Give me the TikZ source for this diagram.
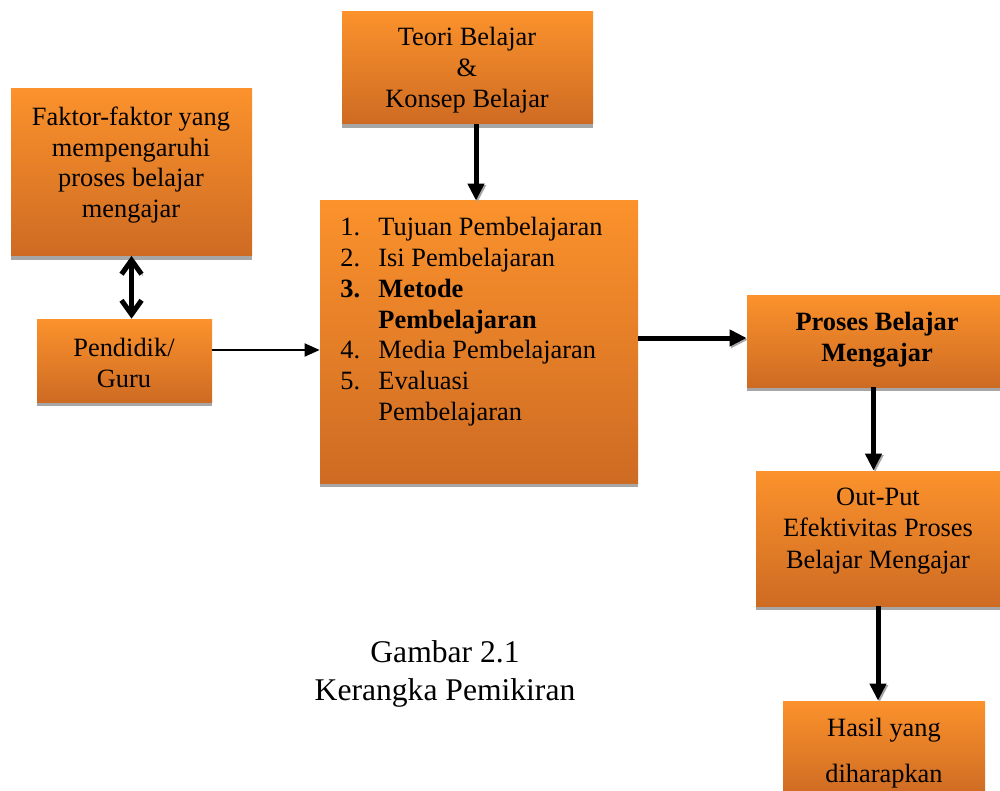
\documentclass[tikz,border=0pt]{standalone}
\usepackage{fontspec}
\setmainfont{Liberation Serif}
\usepackage{tikz}
\usetikzlibrary{arrows.meta,shadows}
\definecolor{orTop}{RGB}{251,146,44}
\definecolor{orBot}{RGB}{206,107,35}
\definecolor{shGray}{RGB}{166,166,166}
\newcommand{\boxfont}{\fontsize{13.2pt}{15.4pt}\selectfont}
\newcommand{\itm}[1]{\makebox[19pt][l]{#1}}
\tikzset{
  box/.style={rectangle, inner sep=0pt, top color=orTop, bottom color=orBot,
    drop shadow={shadow xshift=0pt, shadow yshift=-2pt, fill=shGray, opacity=1}},
  btext/.style={align=center, inner sep=0pt, font=\boxfont},
  flow/.style={line width=2.5pt,
    preaction={draw=shGray, transform canvas={xshift=0.8pt, yshift=-0.8pt}}}
}

\begin{document}
\begin{tikzpicture}[x=0.5pt, y=-0.5pt, >={Triangle[length=8.5pt, width=8pt]}]
    \useasboundingbox (0,0) rectangle (1000,791);
    % boxes
    \node[box, minimum width=120.5pt, minimum height=83.5pt] (fk) at (131.5,172) {};
    \node[box, minimum width=87.5pt, minimum height=41.5pt] (pd) at (124.5,360.5) {};
    \node[box, minimum width=125.5pt, minimum height=56pt] (th) at (467.5,68) {};
    \node[box, minimum width=159pt, minimum height=141pt] (mt) at (479,342) {};
    \node[box, minimum width=126.5pt, minimum height=46pt] (ps) at (873.5,341) {};
    \node[box, minimum width=122pt, minimum height=67.5pt] (op) at (878,538.5) {};
    \node[box, minimum width=101pt, minimum height=47pt] (hs) at (884,748) {};
    % texts
    \node[btext] (fkt) at (131,165) {Faktor-faktor yang\\mempengaruhi\\proses belajar\\mengajar};
    \node[btext] (pdt) at (124,363) {Pendidik/\\Guru};
    \node[btext] (tht) at (467,70) {Teori Belajar\\\&\\Konsep Belajar};
    \node[btext, align=left, anchor=north west] (mtt) at (340,217) {%
        \itm{1.}Tujuan Pembelajaran\\
        \itm{2.}Isi Pembelajaran\\
        \textbf{\itm{3.}Metode}\\
        \hspace*{19pt}\textbf{Pembelajaran}\\
        \itm{4.}Media Pembelajaran\\
        \itm{5.}Evaluasi\\
        \hspace*{19pt}Pembelajaran};
    \node[btext, font=\boxfont\bfseries] (pst) at (877,340) {Proses Belajar\\Mengajar};
    \node[btext, font=\fontsize{13.2pt}{15.8pt}\selectfont] (opt) at (878,531) {Out-Put\\Efektivitas Proses\\Belajar Mengajar};
    \node[btext, font=\fontsize{13.2pt}{23pt}\selectfont] (hst) at (884,753) {Hasil yang\\diharapkan};
    \node[btext, font=\fontsize{15.8pt}{19pt}\selectfont] (cap) at (445,674) {Gambar 2.1\\Kerangka Pemikiran};
    % arrows
    \draw[flow, {Straight Barb[length=7pt, width=10pt]}-{Straight Barb[length=7pt, width=10pt]}] (fk.south) -- (fk.south |- pd.north);
    \draw[line width=1pt, -{Triangle[length=7.5pt, width=6.5pt]}] ([yshift=5.25pt]pd.east) -- ([yshift=5.25pt]pd.east -| mt.west);
    \draw[flow, ->] ([xshift=4.25pt]th.south) -- ([xshift=4.25pt]th.south |- mt.north);
    \draw[flow, ->] ([yshift=2pt]mt.east) -- ([yshift=2pt]mt.east -| ps.west);
    \draw[flow, ->] (ps.south) -- (ps.south |- op.north);
    \draw[flow, ->] (op.south) -- (op.south |- hs.north);
\end{tikzpicture}
\end{document}
